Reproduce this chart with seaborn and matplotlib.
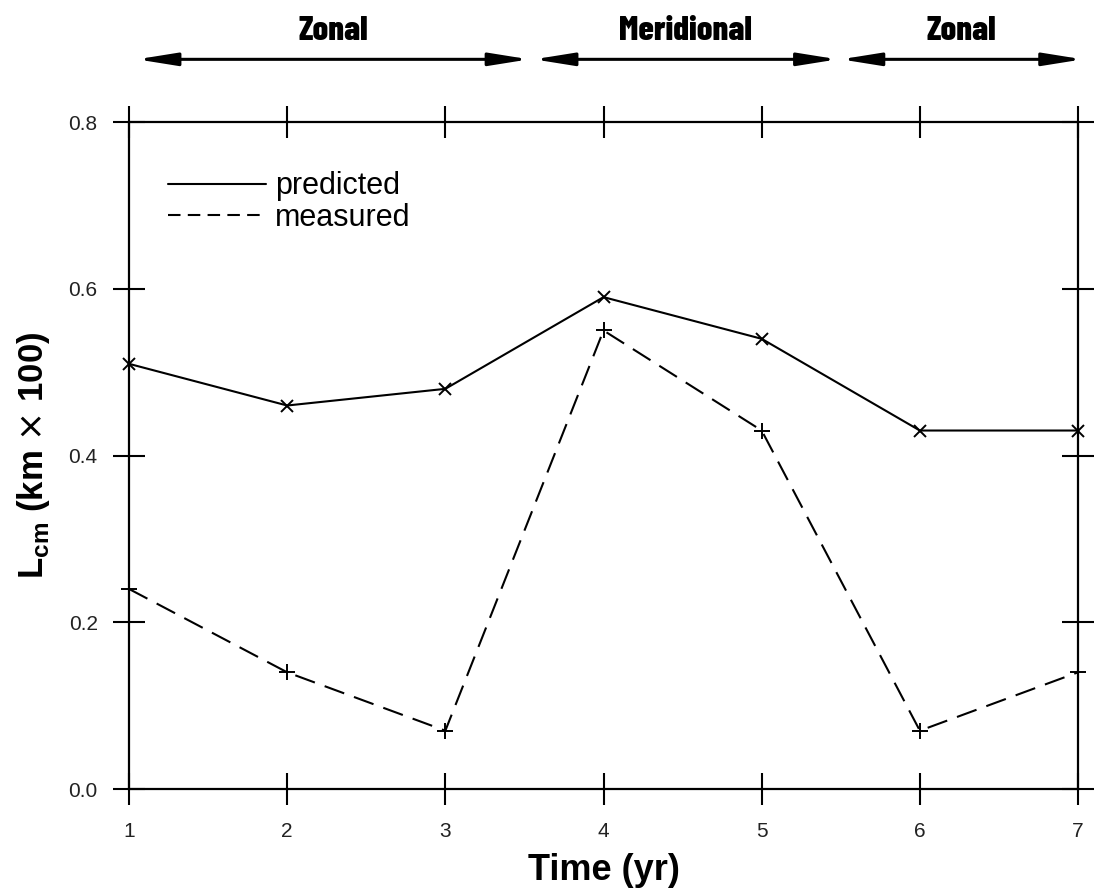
import matplotlib
matplotlib.use("Agg")
import matplotlib.pyplot as plt
import seaborn as sns
import pandas as pd
from matplotlib.lines import Line2D

years = [1, 2, 3, 4, 5, 6, 7]
predicted = [0.51, 0.46, 0.48, 0.59, 0.54, 0.43, 0.43]
measured = [0.24, 0.14, 0.07, 0.55, 0.43, 0.07, 0.14]
y_ticks = [0.0, 0.2, 0.4, 0.6, 0.8]
x_tick_labels = ["1", "2", "3", "4", "5", "6", "7"]
regimes = ["Zonal", "Meridional", "Zonal"]
regime_spans = [(1.05, 3.53), (3.56, 5.48), (5.50, 7.03)]

sns.set_theme(style="white")
plt.rcParams["font.family"] = ["Liberation Sans", "DejaVu Sans"]
plt.rcParams["text.color"] = "black"
plt.rcParams["axes.labelcolor"] = "black"

fig = plt.figure(figsize=(10.95, 8.94), dpi=100)
ax = fig.add_axes([0.1178, 0.1174, 0.8667, 0.7461])

df_p = pd.DataFrame({"year": years, "value": predicted})
df_m = pd.DataFrame({"year": years, "value": measured})

sns.lineplot(data=df_p, x="year", y="value", ax=ax, color="black", lw=1.5,
             marker="x", markersize=9, markeredgewidth=1.4,
             markeredgecolor="black", clip_on=False)
sns.lineplot(data=df_m, x="year", y="value", ax=ax, color="black", lw=1.5,
             marker="+", markersize=12, markeredgewidth=1.4,
             markeredgecolor="black", dashes=(10, 5), clip_on=False)

ax.set_xlim(1, 7)
ax.set_ylim(0, 0.8)
ax.set_xticks(years)
ax.set_xticklabels(x_tick_labels)
ax.set_yticks(y_ticks)
ax.set_yticklabels([f"{v:.1f}" for v in y_ticks])

for s in ax.spines.values():
    s.set_visible(True)
    s.set_color("black")
    s.set_linewidth(1.6)

ax.tick_params(axis="both", which="major", direction="inout", length=23,
               width=1.5, color="black", labelsize=15, labelcolor="#222222")
ax.tick_params(axis="x", top=True, bottom=True, pad=12)
ax.tick_params(axis="y", left=True, right=True, pad=11)

ax.set_xlabel("Time (yr)", fontsize=26, fontweight="bold", labelpad=9)
ax.set_ylabel(r"L$_{\mathregular{cm}}$ (km $\times$ 100)", fontsize=25,
              fontweight="bold")
ax.yaxis.set_label_coords(-0.081, 0.5)

handles = [Line2D([], [], color="black", lw=1.5),
           Line2D([], [], color="black", lw=1.5, dashes=(6, 3.5))]
leg = ax.legend(handles, ["predicted", "measured"], loc="upper left",
                bbox_to_anchor=(0.041, 0.926), frameon=False, fontsize=22,
                handlelength=3.2, handletextpad=0.3, labelspacing=0.05,
                borderaxespad=0, borderpad=0)

for label, (x0, x1) in zip(regimes, regime_spans):
    ax.annotate("", xy=(x1, 1.094), xytext=(x0, 1.094),
                xycoords=("data", "axes fraction"),
                textcoords=("data", "axes fraction"),
                arrowprops=dict(arrowstyle="<|-|>,head_length=2.0,head_width=0.32",
                                color="black", lw=2.2, shrinkA=0, shrinkB=0),
                annotation_clip=False)
    ax.text((x0 + x1) / 2, 1.137, label, transform=ax.get_xaxis_transform(),
            ha="center", va="center", fontsize=25, fontweight=800,
            family=["Barlow Condensed", "DejaVu Sans"])

fig.savefig("out.png", dpi=100)
